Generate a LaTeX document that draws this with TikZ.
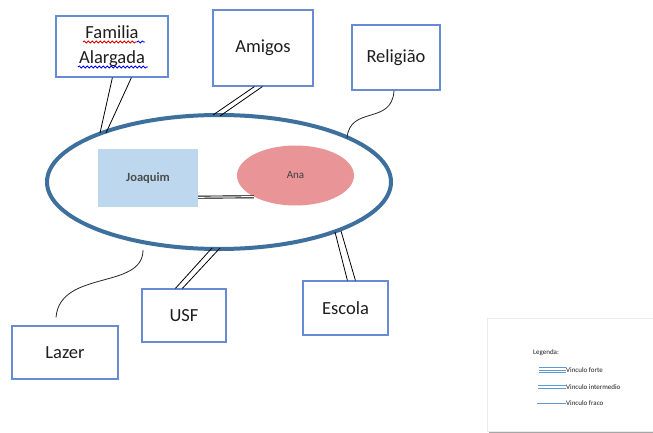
\documentclass[tikz,border=0pt]{standalone}
\usepackage{fontspec}
\setmainfont{Carlito}
\usetikzlibrary{calc,decorations.pathmorphing,shapes.geometric}
\definecolor{boxblue}{RGB}{102,140,214}
\definecolor{ringblue}{RGB}{62,112,158}
\definecolor{jfill}{RGB}{189,215,238}
\definecolor{afill}{RGB}{233,148,150}
\definecolor{legblue}{RGB}{91,155,213}
\definecolor{txt}{RGB}{30,30,30}
\tikzset{
  labelbox/.style={draw=boxblue, line width=1.2pt, fill=white, inner sep=0pt, text=txt,
     font=\fontsize{18.5}{25}\selectfont, align=center},
  tie/.style={black, line width=0.8pt},
  weak/.style={black!85, line width=0.8pt},
  spell/.style={decorate, decoration={snake, amplitude=1.1pt, segment length=4pt}, line width=0.8pt},
  legtxt/.style={anchor=west, inner sep=0pt, font=\fontsize{7}{8}\selectfont, text=txt},
  legline/.style={legblue, line width=0.6pt}
}
\begin{document}
\begin{tikzpicture}[x=1pt,y=-1pt]
\useasboundingbox (0,0) rectangle (653,433);
\fill[white] (0,0) rectangle (653,433);
% family ring
\node[ellipse, draw=ringblue, line width=4pt, minimum width=344pt, minimum height=134pt, inner sep=0pt] (circ) at (219,182) {};
\node[rectangle, fill=jfill, minimum width=100pt, minimum height=58pt, inner sep=0pt,
      font=\fontsize{12.5}{14}\selectfont\bfseries, text=black!70] (joaquim) at (148,178) {Joaquim};
\node[ellipse, fill=afill, minimum width=117pt, minimum height=60pt, inner sep=0pt,
      font=\fontsize{11}{12}\selectfont, text=black!75] (ana) at (295.5,175.5) {Ana};
\draw[black, line width=0.9pt, double=white, double distance=1.2pt]
   ($(joaquim.south east)+(0,-10)$) -- (ana.207.8);
% outer boxes
\node[labelbox, minimum width=112pt, minimum height=61pt] (fam) at (112,46.5) {Familia\\Alargada};
\node[labelbox, minimum width=100pt, minimum height=76pt] (amigos) at (263,48) {Amigos};
\node[labelbox, minimum width=88pt, minimum height=65pt] (relig) at (396,57.5) {Religião};
\node[labelbox, minimum width=84pt, minimum height=53pt] (usf) at (184,315.5) {USF};
\node[labelbox, minimum width=85pt, minimum height=54pt] (escola) at (345.5,308) {Escola};
\node[labelbox, minimum width=106pt, minimum height=53pt] (lazer) at (65,352.5) {Lazer};
% spelling underlines
\draw[spell, red!85!black] ($(fam.center)+(-29,-4.5)$) -- ($(fam.center)+(25,-4.5)$);
\draw[spell, blue] ($(fam.center)+(25,-4.5)$) -- ($(fam.center)+(33,-4.5)$);
\draw[spell, blue] ($(fam.center)+(-34,20.5)$) -- ($(fam.center)+(36,20.5)$);
% points on the ring
\coordinate (e1) at (100,133);
\coordinate (e2) at (106,133);
\coordinate (e3) at (213,115);
\coordinate (e4) at (220,116);
\coordinate (e5) at (347,138);
\coordinate (e6) at (212,248);
\coordinate (e7) at (220,248);
\coordinate (e8) at (335,232);
\coordinate (e9) at (341,231);
\coordinate (e10) at (143,250);
% connectors
\draw[tie] ($(fam.south west)+(57,0)$) -- (e1);
\draw[tie] ($(fam.south west)+(76,0)$) -- (e2);
\draw[tie] ($(amigos.south west)+(42,0)$) -- (e3);
\draw[tie] ($(amigos.south west)+(50,0)$) -- (e4);
\draw[weak] ($(relig.south)+(-2,0)$) .. controls +(-2,35) and +(3,-33) .. (e5);
\draw[tie] ($(usf.north west)+(34,0)$) -- (e6);
\draw[tie] ($(usf.north west)+(41,0)$) -- (e7);
\draw[tie] ($(escola.north west)+(45,0)$) -- (e8);
\draw[tie] ($(escola.north west)+(53,0)$) -- (e9);
\draw[weak] (e10) .. controls +(0,40) and +(4,-48) .. ($(lazer.north)+(-9,-8)$);
% legend
\fill[black!35] (489,430) rectangle (660,433);
\draw[black!8, fill=white] (487,318) rectangle (660,431);
\node[legtxt] (legtitle) at (533,353) {Legenda:};
\node[legtxt] (lf) at (566,370) {Vinculo forte};
\node[legtxt] (li) at (566,387) {Vinculo intermedio};
\node[legtxt] (lw) at (566,403) {Vinculo fraco};
\draw[legline] ($(lf.west)+(0,-2.5)$) -- +(-27,0);
\draw[legline] (lf.west) -- +(-27,0);
\draw[legline] ($(lf.west)+(0,2.5)$) -- +(-27,0);
\draw[legline] ($(li.west)+(0,-1.3)$) -- +(-28,0);
\draw[legline] ($(li.west)+(0,1.3)$) -- +(-28,0);
\draw[legline] (lw.west) -- +(-29,0);
\end{tikzpicture}
\end{document}
